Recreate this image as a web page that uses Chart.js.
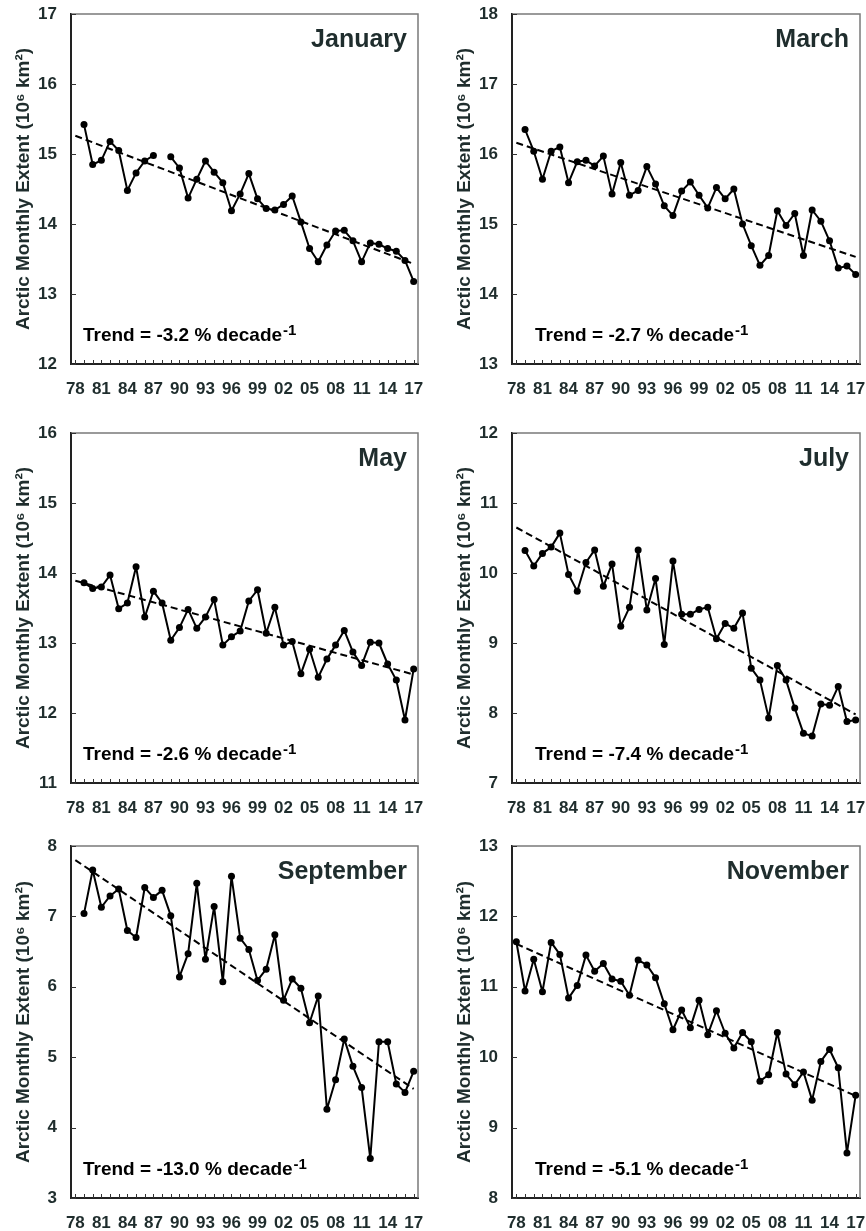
<!DOCTYPE html>
<html lang="en">
<head>
  <meta charset="UTF-8">
  <title>Arctic Monthly Sea Ice Extent</title>
  <script src="https://cdn.jsdelivr.net/npm/chart.js"></script>
  <style>
    body { margin: 0; background: #fff; overflow: hidden; }
    canvas { position: absolute; }
  </style>
</head>
<body>
  <canvas id="c0" width="433" height="400" style="left:0;top:0"></canvas>
  <canvas id="c1" width="425" height="400" style="left:441px;top:0"></canvas>
  <canvas id="c2" width="433" height="400" style="left:0;top:419px"></canvas>
  <canvas id="c3" width="425" height="400" style="left:441px;top:419px"></canvas>
  <canvas id="c4" width="433" height="399" style="left:0;top:832px"></canvas>
  <canvas id="c5" width="425" height="399" style="left:441px;top:832px"></canvas>

  <script>
    const years = [1978, 1979, 1980, 1981, 1982, 1983, 1984, 1985, 1986, 1987,
                   1988, 1989, 1990, 1991, 1992, 1993, 1994, 1995, 1996, 1997,
                   1998, 1999, 2000, 2001, 2002, 2003, 2004, 2005, 2006, 2007,
                   2008, 2009, 2010, 2011, 2012, 2013, 2014, 2015, 2016, 2017];
    const labelYears = [1978, 1981, 1984, 1987, 1990, 1993, 1996, 1999, 2002, 2005, 2008, 2011, 2014, 2017];

    const months = ['January', 'March', 'May', 'July', 'September', 'November'];

    const jan = [null, 15.42, 14.85, 14.91, 15.18, 15.05, 14.48, 14.73, 14.90, 14.98,
                 null, 14.96, 14.80, 14.37, 14.64, 14.90, 14.74, 14.59, 14.19, 14.43,
                 14.72, 14.36, 14.22, 14.20, 14.28, 14.40, 14.03, 13.65, 13.46, 13.70,
                 13.90, 13.91, 13.76, 13.46, 13.73, 13.71, 13.65, 13.61, 13.48, 13.18];
    const mar = [null, 16.35, 16.04, 15.64, 16.04, 16.10, 15.59, 15.89, 15.91, 15.83,
                 15.97, 15.43, 15.88, 15.41, 15.48, 15.82, 15.57, 15.26, 15.12, 15.47,
                 15.60, 15.41, 15.23, 15.52, 15.36, 15.50, 15.00, 14.69, 14.41, 14.55,
                 15.19, 14.98, 15.15, 14.55, 15.20, 15.04, 14.76, 14.37, 14.40, 14.28];
    const may = [null, 13.86, 13.78, 13.80, 13.97, 13.49, 13.57, 14.09, 13.37, 13.74,
                 13.57, 13.04, 13.22, 13.48, 13.21, 13.37, 13.62, 12.97, 13.09, 13.17,
                 13.60, 13.76, 13.14, 13.51, 12.97, 13.02, 12.56, 12.91, 12.51, 12.77,
                 12.97, 13.18, 12.87, 12.68, 13.01, 13.00, 12.70, 12.47, 11.90, 12.63];
    const jul = [null, 10.32, 10.10, 10.28, 10.37, 10.57, 9.98, 9.74, 10.15, 10.33,
                 9.81, 10.13, 9.24, 9.51, 10.33, 9.47, 9.92, 8.98, 10.17, 9.41,
                 9.41, 9.48, 9.51, 9.06, 9.28, 9.21, 9.43, 8.64, 8.47, 7.93,
                 8.68, 8.47, 8.07, 7.71, 7.67, 8.13, 8.11, 8.38, 7.88, 7.90];
    const sep = [null, 7.04, 7.66, 7.13, 7.29, 7.39, 6.80, 6.70, 7.41, 7.27,
                 7.37, 7.01, 6.14, 6.47, 7.47, 6.39, 7.14, 6.07, 7.57, 6.69,
                 6.53, 6.09, 6.25, 6.74, 5.81, 6.11, 5.98, 5.49, 5.87, 4.26,
                 4.68, 5.26, 4.87, 4.57, 3.56, 5.22, 5.22, 4.62, 4.50, 4.80];
    const nov = [11.64, 10.94, 11.39, 10.93, 11.63, 11.46, 10.84, 11.02, 11.45, 11.22,
                 11.33, 11.11, 11.08, 10.88, 11.38, 11.31, 11.13, 10.76, 10.39, 10.67,
                 10.42, 10.81, 10.32, 10.66, 10.34, 10.13, 10.35, 10.22, 9.66, 9.75,
                 10.35, 9.76, 9.61, 9.79, 9.39, 9.94, 10.11, 9.85, 8.64, 9.46];
    const series = [jan, mar, may, jul, sep, nov];

    // dashed linear trend, value at 1978 and at 2017
    const trendStart = [15.26, 16.16, 13.89, 10.65, 7.80, 11.61];
    const trendEnd = [13.43, 14.53, 12.55, 7.98, 4.55, 9.45];
    const trendText = ['-3.2', '-2.7', '-2.6', '-7.4', '-13.0', '-5.1'];

    const yMin = [12, 13, 11, 7, 3, 8];
    const yMax = [17, 18, 16, 12, 8, 13];

    const FONT = "'Liberation Sans', Arial, sans-serif";
    const SLATE = '#1f2d2d';

    const panelDecor = {
      id: 'panelDecor',
      beforeDatasetsDraw(chart) {
        const { ctx, chartArea: a, scales: { x, y } } = chart;
        ctx.save();
        // thin grey frame on top and right
        ctx.strokeStyle = '#7a7a7a';
        ctx.lineWidth = 1.5;
        ctx.beginPath();
        ctx.moveTo(a.left, a.top);
        ctx.lineTo(a.right, a.top);
        ctx.lineTo(a.right, a.bottom);
        ctx.stroke();
        // inward tick marks
        ctx.strokeStyle = '#333';
        ctx.lineWidth = 1;
        ctx.beginPath();
        years.forEach(yr => {
          const px = Math.round(x.getPixelForValue(yr)) + 0.5;
          ctx.moveTo(px, a.bottom);
          ctx.lineTo(px, a.bottom - 4);
        });
        y.ticks.forEach(t => {
          const py = Math.round(y.getPixelForValue(t.value)) + 0.5;
          ctx.moveTo(a.left, py);
          ctx.lineTo(a.left + 5, py);
        });
        ctx.stroke();
        ctx.restore();
      },
      afterDraw(chart, args, opts) {
        const { ctx, chartArea: a } = chart;
        ctx.save();
        // month name
        ctx.fillStyle = SLATE;
        ctx.font = 'bold 25px ' + FONT;
        ctx.textAlign = 'right';
        ctx.textBaseline = 'alphabetic';
        ctx.fillText(opts.month, a.right - 11, a.top + 33);
        // trend text with superscript
        ctx.fillStyle = '#000';
        ctx.textAlign = 'left';
        const tx = a.left + (opts.col ? 23 : 12);
        const ty = a.bottom - 23;
        ctx.font = 'bold 19px ' + FONT;
        const main = 'Trend = ' + opts.trend + ' % decade';
        ctx.fillText(main, tx, ty);
        const w = ctx.measureText(main).width;
        ctx.font = 'bold 15px ' + FONT;
        ctx.fillText('-1', tx + w + 1, ty - 6);
        ctx.restore();
      }
    };
    Chart.register(panelDecor);

    months.forEach((month, i) => {
      const col = i % 2;
      const ctx = document.getElementById('c' + i).getContext('2d');
      new Chart(ctx, {
        type: 'line',
        data: {
          datasets: [
            {
              data: years.map((yr, k) => ({ x: yr, y: series[i][k] })),
              borderColor: '#000',
              backgroundColor: '#000',
              borderWidth: 2,
              borderJoinStyle: 'round',
              pointRadius: 3.5,
              pointBackgroundColor: '#000',
              pointBorderWidth: 0,
              tension: 0,
              spanGaps: false,
              order: 0
            },
            {
              data: [{ x: years[0], y: trendStart[i] }, { x: years[years.length - 1], y: trendEnd[i] }],
              borderColor: '#000',
              borderWidth: 2,
              borderDash: [7, 4],
              pointRadius: 0,
              order: 1
            }
          ]
        },
        options: {
          responsive: false,
          animation: false,
          layout: { padding: { top: 14, left: 0, right: col ? 6 : 15, bottom: 0 } },
          plugins: {
            legend: { display: false },
            tooltip: { enabled: false },
            panelDecor: { month: month, trend: trendText[i], col: col }
          },
          scales: {
            x: {
              type: 'linear',
              min: 1977.5,
              max: 2017.5,
              afterBuildTicks: s => { s.ticks = labelYears.map(v => ({ value: v })); },
              afterFit: s => {
                s.height = i >= 4 ? 33 : 36;
                s.paddingLeft = 0;
                s.paddingRight = 0;
              },
              grid: { display: true, drawOnChartArea: false, drawTicks: false },
              border: { display: true, color: '#222', width: 2 },
              ticks: {
                autoSkip: false,
                maxRotation: 0,
                padding: 15,
                color: SLATE,
                font: { family: FONT, size: 17, weight: 'bold' },
                callback: v => String(v % 100).padStart(2, '0')
              }
            },
            y: {
              min: yMin[i],
              max: yMax[i],
              afterFit: s => {
                s.width = 71;
                s.paddingTop = 0;
                s.paddingBottom = 0;
              },
              grid: { display: true, drawOnChartArea: false, drawTicks: false },
              border: { display: true, color: '#222', width: 2 },
              ticks: {
                stepSize: 1,
                padding: 14,
                color: SLATE,
                font: { family: FONT, size: 17, weight: 'bold' }
              },
              title: {
                display: true,
                text: 'Arctic Monthly Extent (10⁶ km²)',
                color: SLATE,
                padding: { top: 12, bottom: 0 },
                font: { family: FONT, size: 19, weight: 'bold' }
              }
            }
          }
        }
      });
    });
  </script>
</body>
</html>
